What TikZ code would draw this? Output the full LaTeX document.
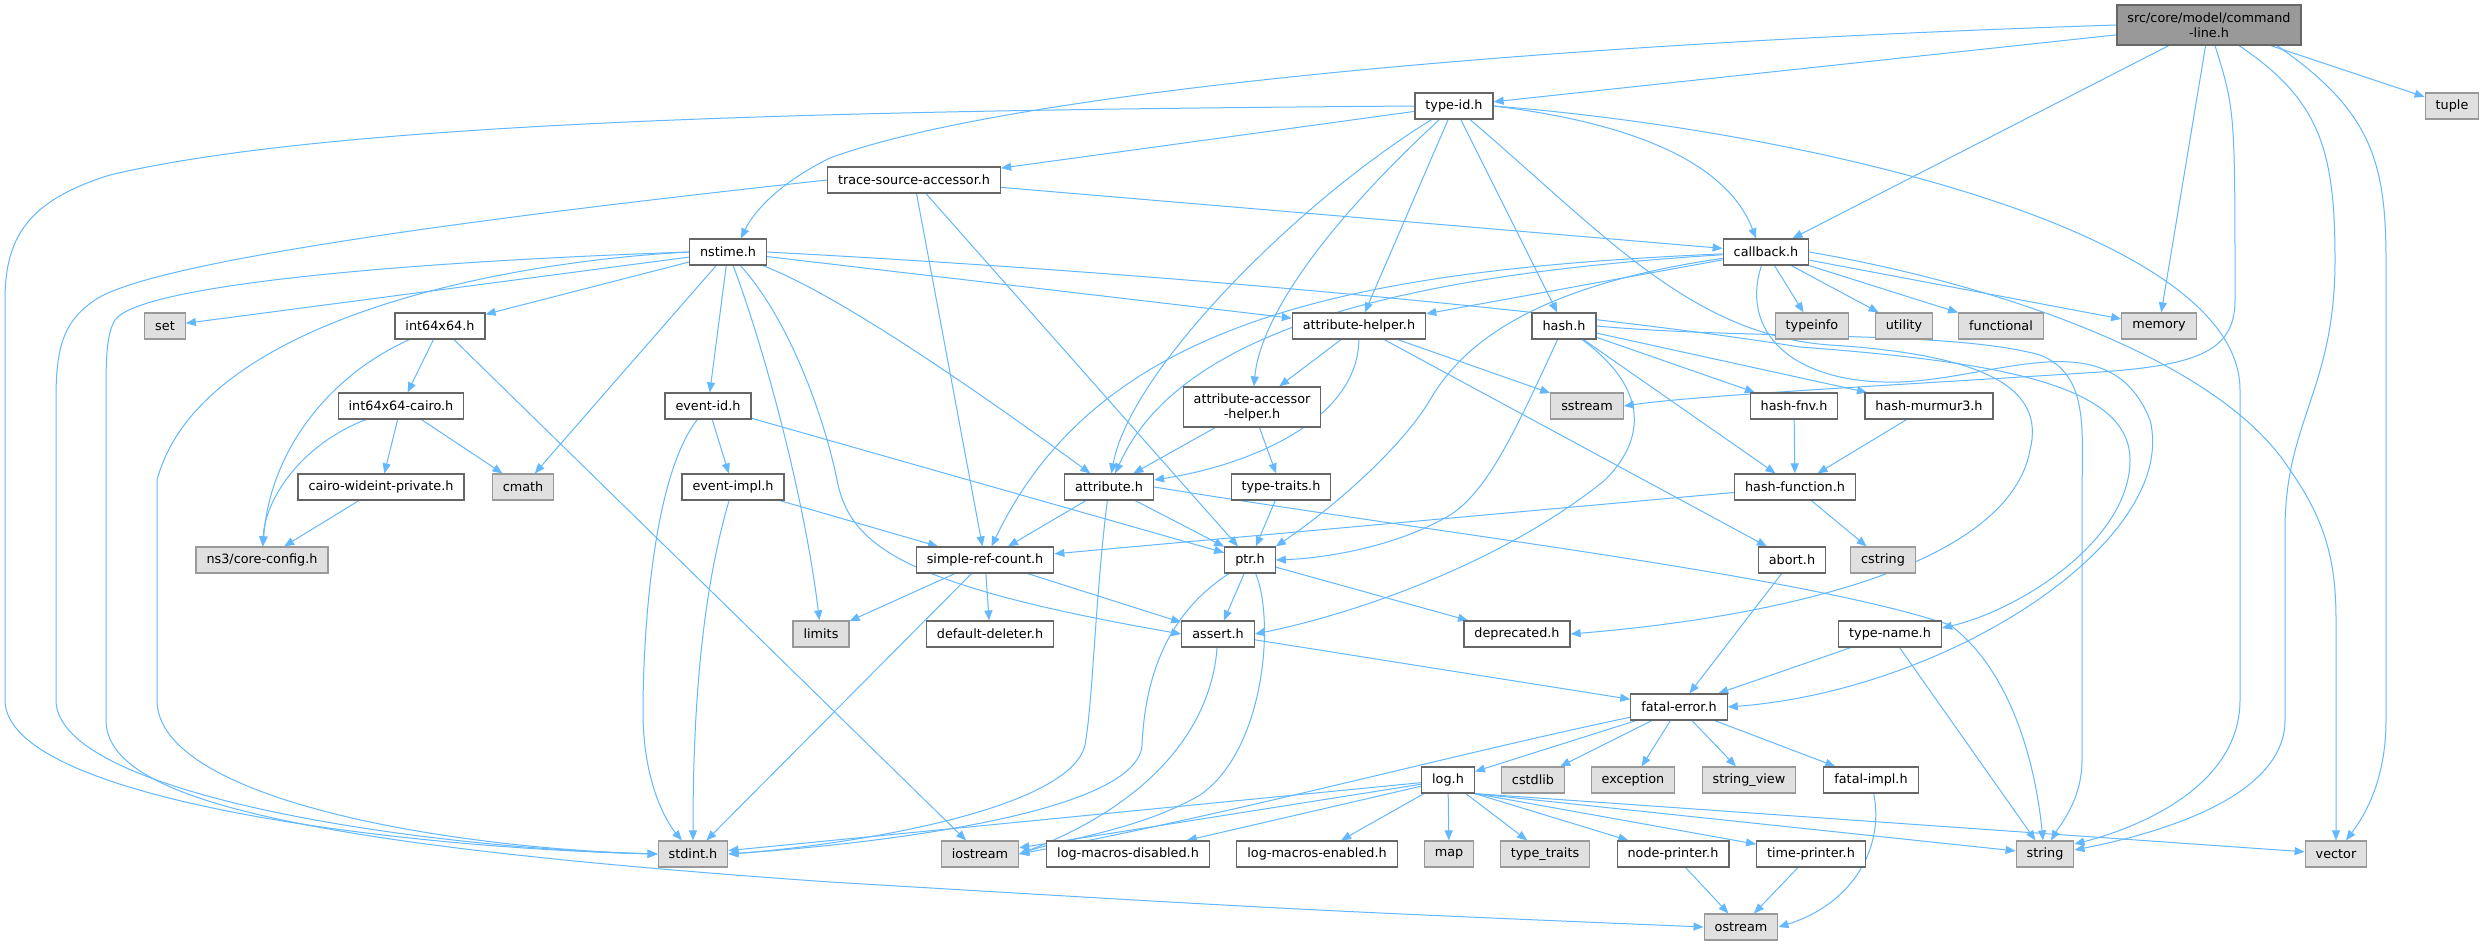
\documentclass[tikz,border=0pt]{standalone}
\usepackage{fontspec}
\setmainfont{DejaVu Sans}
\usetikzlibrary{arrows.meta}
\pgfdeclarelayer{paper}
\pgfdeclarelayer{edges}
\pgfsetlayers{paper,edges,main}
\definecolor{edgeblue}{HTML}{63B8FF}
\definecolor{boxline}{HTML}{666666}
\definecolor{sysline}{HTML}{999999}
\definecolor{sysfill}{HTML}{E0E0E0}
\definecolor{rootfill}{HTML}{999999}
\tikzset{
header/.style={draw=boxline, fill=white, line width=1.2pt, minimum height=26pt,
  inner xsep=10.5pt, inner ysep=1pt, font=\fontsize{12.8}{15}\selectfont},
stdheader/.style={header, draw=sysline, fill=sysfill},
twoline/.style={header, align=center, minimum height=40pt},
roothdr/.style={twoline, fill=rootfill},
incl/.style={draw=edgeblue, line width=1pt, -{Triangle[length=10pt,width=8pt]}}
}

\begin{document}
\begin{tikzpicture}[x=1pt, y=-1pt]
\begin{pgfonlayer}{paper}
\path[use as bounding box, fill=white] (0,0) rectangle (2485,945);
\end{pgfonlayer}
\node[roothdr] (cl) at (2209,25) {src/core/model/command\\-line.h};
\node[header] (typeid) at (1454,106) {type-id.h};
\node[stdheader] (tuple) at (2452,106) {tuple};
\node[header] (tsa) at (914,180) {trace-source-accessor.h};
\node[header] (nstime) at (728,252) {nstime.h};
\node[header] (callback) at (1766,252) {callback.h};
\node[stdheader] (set) at (165,326) {set};
\node[header] (i64) at (440,326) {int64x64.h};
\node[header] (ahelper) at (1359,326) {attribute-helper.h};
\node[header] (hash) at (1564,326) {hash.h};
\node[stdheader] (typeinfo) at (1812,326) {typeinfo};
\node[stdheader] (utility) at (1904,326) {utility};
\node[stdheader] (functional) at (2001,326) {functional};
\node[stdheader] (memory) at (2159,326) {memory};
\node[header] (i64cairo) at (401,406) {int64x64-cairo.h};
\node[header] (eventid) at (708,406) {event-id.h};
\node[twoline] (aahelper) at (1252,407) {attribute-accessor\\-helper.h};
\node[stdheader] (sstream) at (1587,406) {sstream};
\node[header] (hashfnv) at (1794,406) {hash-fnv.h};
\node[header] (hashmur) at (1929,406) {hash-murmur3.h};
\node[header] (cairo) at (381,487) {cairo-wideint-private.h};
\node[stdheader] (cmath) at (523,487) {cmath};
\node[header] (eventimpl) at (733,487) {event-impl.h};
\node[header] (attribute) at (1109,487) {attribute.h};
\node[header] (typetraits) at (1281,487) {type-traits.h};
\node[header] (hashfn) at (1795,487) {hash-function.h};
\node[stdheader] (coreconfig) at (262,560) {ns3/core-config.h};
\node[header] (src) at (985,560) {simple-ref-count.h};
\node[header] (ptr) at (1250,560) {ptr.h};
\node[header] (abort) at (1792,560) {abort.h};
\node[stdheader] (cstring) at (1883,560) {cstring};
\node[stdheader] (limits) at (821,634) {limits};
\node[header] (deleter) at (990,634) {default-deleter.h};
\node[header] (assert) at (1218,634) {assert.h};
\node[header] (deprecated) at (1517,634) {deprecated.h};
\node[header] (typename) at (1890,634) {type-name.h};
\node[header] (fatal) at (1679,707) {fatal-error.h};
\node[header] (log) at (1448,780) {log.h};
\node[stdheader] (cstdlib) at (1533,780) {cstdlib};
\node[stdheader] (exception) at (1633,780) {exception};
\node[stdheader] (stringview) at (1749,780) {string\_view};
\node[header] (fatalimpl) at (1871,780) {fatal-impl.h};
\node[stdheader] (stdint) at (693,854) {stdint.h};
\node[stdheader] (iostream) at (980,854) {iostream};
\node[header] (lmdis) at (1128,854) {log-macros-disabled.h};
\node[header] (lmen) at (1317,854) {log-macros-enabled.h};
\node[stdheader] (map) at (1449,854) {map};
\node[stdheader] (typetr) at (1545,854) {type\_traits};
\node[header] (nodep) at (1673,854) {node-printer.h};
\node[header] (timep) at (1811,854) {time-printer.h};
\node[stdheader] (string) at (2045,854) {string};
\node[stdheader] (vector) at (2336,854) {vector};
\node[stdheader] (ostream) at (1741,927) {ostream};

\begin{pgfonlayer}{edges}
% command-line.h
\draw[incl] (cl) -- (typeid);
\draw[incl] (cl.west) .. controls (1500,45) and (1000,95) .. (830,158) .. controls (775,185) and (752,215) .. ([xshift=13pt]nstime.north);
\draw[incl] (cl) -- (callback);
\draw[incl] (cl) -- (memory);
\draw[incl] (cl) -- (tuple);
\draw[incl] ([xshift=6pt]cl.south) .. controls (2235,110) .. (2235,300) .. controls (2235,350) and (2200,365) .. (2100,372) .. controls (1900,385) and (1700,395) .. (sstream.east);
\draw[incl] ([xshift=30pt]cl.south) .. controls (2320,100) and (2335,150) .. (2335,260) .. controls (2335,390) and (2285,420) .. (2285,530) -- (2285,720) .. controls (2285,800) and (2150,835) .. ([yshift=4pt]string.east);
\draw[incl] ([xshift=68pt]cl.south) .. controls (2370,110) and (2386,160) .. (2386,260) -- (2386,720) .. controls (2386,780) and (2365,815) .. ([xshift=10pt]vector.north);

% type-id.h
\draw[incl] (typeid) -- (tsa);
\draw[incl] (typeid.east) .. controls (1650,125) and (1730,170) .. ([xshift=-10pt]callback.north);
\draw[incl] (typeid.east) .. controls (1800,130) and (2240,230) .. (2240,390) -- (2240,700) .. controls (2240,790) and (2130,830) .. ([yshift=10pt]string.east);
\draw[incl] (typeid) .. controls (1300,200) and (1130,370) .. (attribute);
\draw[incl] (typeid) .. controls (1320,230) and (1260,320) .. (aahelper);
\draw[incl] (typeid) -- (ahelper);
\draw[incl] (typeid) -- (hash);
\draw[incl] (typeid) .. controls (1600,230) and (1690,335) .. (1830,345) .. controls (1990,355) and (2045,390) .. (2030,450) .. controls (2010,560) and (1800,615) .. (deprecated.east);
\draw[incl] (typeid.west) .. controls (900,110) and (350,118) .. (110,175) .. controls (30,200) and (5,235) .. (5,300) -- (5,700) .. controls (5,800) and (400,848) .. (stdint.west);

% trace-source-accessor.h
\draw[incl] (tsa) -- (callback);
\draw[incl] (tsa) -- (src);
\draw[incl] (tsa) -- (ptr);
\draw[incl] (tsa.west) .. controls (600,205) and (160,255) .. (95,300) .. controls (62,322) and (56,350) .. (56,400) -- (56,700) .. controls (56,795) and (420,848) .. (stdint.west);

% nstime.h
\draw[incl] (nstime) -- (set);
\draw[incl] (nstime) -- (i64);
\draw[incl] (nstime) -- (cmath);
\draw[incl] (nstime) -- (eventid);
\draw[incl] (nstime) .. controls (765,350) and (805,500) .. (limits);
\draw[incl] (nstime) .. controls (790,320) and (825,420) .. (837,480) .. controls (850,545) and (900,585) .. (assert.west);
\draw[incl] (nstime) .. controls (800,280) and (880,320) .. (attribute);
\draw[incl] (nstime) -- (ahelper);
\draw[incl] (nstime.east) .. controls (1200,275) and (1600,315) .. (1800,347) .. controls (2000,362) and (2130,385) .. (2130,460) .. controls (2130,540) and (2020,610) .. ([yshift=6pt]typename.east);
\draw[incl] (nstime.west) .. controls (500,262) and (200,320) .. (157,480) -- (157,700) .. controls (157,800) and (450,848) .. (stdint.west);
\draw[incl] (nstime.west) .. controls (400,262) and (140,285) .. (115,320) .. controls (106,335) and (106,360) .. (106,400) -- (106,720) .. controls (106,800) and (300,845) .. (830,882) .. controls (1300,910) .. (ostream.west);

% int64x64
\draw[incl] (i64) -- (i64cairo);
\draw[incl] (i64) .. controls (330,375) and (270,450) .. (coreconfig);
\draw[incl] (i64) -- (iostream);
\draw[incl] (i64cairo) -- (cairo);
\draw[incl] (i64cairo) -- (cmath);
\draw[incl] (i64cairo) .. controls (300,445) and (265,500) .. (coreconfig);
\draw[incl] (cairo) -- (coreconfig);

% event-id.h, event-impl.h
\draw[incl] (eventid) -- (eventimpl);
\draw[incl] (eventid) -- (ptr);
\draw[incl] (eventid) .. controls (650,480) and (643,650) .. (643,712) .. controls (643,780) and (665,820) .. (stdint);
\draw[incl] (eventimpl) -- (src);
\draw[incl] (eventimpl) .. controls (700,600) and (693,720) .. (stdint);

% attribute headers
\draw[incl] (ahelper) -- (aahelper);
\draw[incl] (ahelper) .. controls (1358,420) and (1250,465) .. (attribute);
\draw[incl] (ahelper) -- (sstream);
\draw[incl] (ahelper) -- (abort);
\draw[incl] (aahelper) -- (attribute);
\draw[incl] (aahelper) -- (typetraits);
\draw[incl] (attribute) -- (src);
\draw[incl] (attribute) -- (ptr);
\draw[incl] (attribute.east) .. controls (1450,535) and (1800,575) .. (1950,625) .. controls (2010,670) and (2035,760) .. ([xshift=-2pt]string.north);
\draw[incl] (attribute) .. controls (1095,600) and (1093,700) .. (1085,745) .. controls (1070,810) and (850,845) .. (stdint.east);
\draw[incl] (typetraits) -- (ptr);

% simple-ref-count.h, ptr.h, assert.h
\draw[incl] (src) -- (limits);
\draw[incl] (src) -- (deleter);
\draw[incl] (src) -- (assert);
\draw[incl] (src) -- (stdint);
\draw[incl] (ptr) -- (assert);
\draw[incl] (ptr) -- (deprecated);
\draw[incl] (ptr) .. controls (1165,615) and (1145,680) .. (1142,745) .. controls (1138,810) and (900,842) .. (stdint.east);
\draw[incl] (ptr) .. controls (1275,620) and (1265,750) .. (1200,795) .. controls (1140,830) and (1060,840) .. (iostream.east);
\draw[incl] (assert) -- (fatal);
\draw[incl] (assert) .. controls (1212,720) and (1160,800) .. (iostream.east);

% callback.h
\draw[incl] (callback) -- (typeinfo);
\draw[incl] (callback) -- (utility);
\draw[incl] (callback) -- (functional);
\draw[incl] (callback) -- (memory);
\draw[incl] (callback) -- (ahelper);
\draw[incl] (callback) .. controls (1400,275) and (1180,330) .. (attribute);
\draw[incl] (callback) .. controls (1350,270) and (1100,320) .. (src);
\draw[incl] (callback) .. controls (1560,282) and (1470,330) .. (1430,400) .. controls (1400,450) and (1330,510) .. (ptr.north east);
\draw[incl] (callback) .. controls (1740,330) and (1790,385) .. (1900,382) .. controls (2000,378) and (2110,320) .. (2150,420) .. controls (2180,540) and (1950,690) .. (fatal.east);
\draw[incl] (callback.east) .. controls (2000,285) and (2220,360) .. (2290,470) .. controls (2325,520) and (2336,560) .. (2336,620) -- (vector);

% hash headers
\draw[incl] (hash) .. controls (1520,420) and (1490,490) .. (1450,515) .. controls (1400,545) and (1330,558) .. (ptr.east);
\draw[incl] (hash) .. controls (1650,390) and (1645,440) .. (1605,480) .. controls (1500,565) and (1350,615) .. (assert.east);
\draw[incl] (hash) -- (hashfnv);
\draw[incl] (hash) -- (hashmur);
\draw[incl] (hash) -- (hashfn);
\draw[incl] (hash.east) .. controls (1750,340) and (1950,330) .. (2040,355) .. controls (2090,375) and (2082,430) .. (2082,500) -- (2082,760) .. controls (2082,800) and (2060,825) .. ([xshift=6pt]string.north);
\draw[incl] (hashfnv) -- (hashfn);
\draw[incl] (hashmur) -- (hashfn);
\draw[incl] (hashfn) -- (cstring);
\draw[incl] (hashfn) -- (src);

% abort.h, type-name.h, fatal-error.h
\draw[incl] (abort) -- (fatal);
\draw[incl] (typename) -- (fatal);
\draw[incl] (typename) -- (string);
\draw[incl] (fatal) -- (log);
\draw[incl] (fatal) -- (cstdlib);
\draw[incl] (fatal) -- (exception);
\draw[incl] (fatal) -- (stringview);
\draw[incl] (fatal) -- (fatalimpl);
\draw[incl] (fatal) .. controls (1450,755) and (1250,810) .. (iostream.east);
\draw[incl] (fatalimpl) .. controls (1885,850) and (1850,905) .. (ostream.east);

% log.h
\draw[incl] (log) -- (stdint);
\draw[incl] (log) -- (iostream);
\draw[incl] (log) -- (lmdis);
\draw[incl] (log) -- (lmen);
\draw[incl] (log) -- (map);
\draw[incl] (log) -- (typetr);
\draw[incl] (log.south east) -- (nodep);
\draw[incl] (log.south east) -- (timep);
\draw[incl] (log.south east) -- (string);
\draw[incl] (log.south east) -- (vector);
\draw[incl] (nodep) -- (ostream);
\draw[incl] (timep) -- (ostream);
\end{pgfonlayer}
\end{tikzpicture}
\end{document}
